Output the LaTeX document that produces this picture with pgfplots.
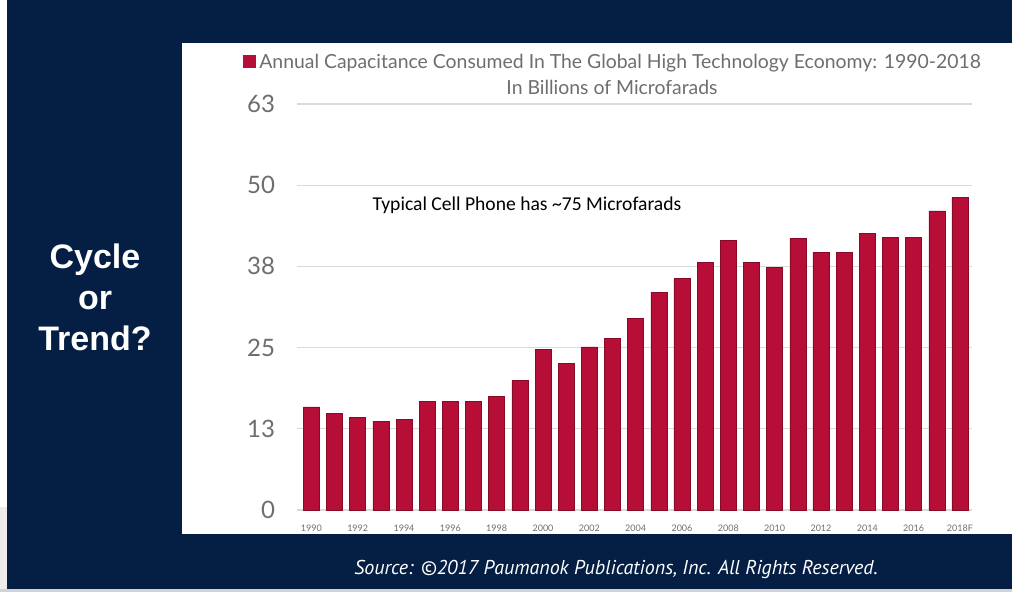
\documentclass[border=0pt]{standalone}
\usepackage{fontspec}
\setmainfont{Lato}
\newfontfamily\carlito{Carlito}
\newfontfamily\arialf{Liberation Sans}
\newfontfamily\ptsans{PT Sans}
\usepackage{pgfplots}
\pgfplotsset{compat=1.18}
\definecolor{navy}{RGB}{5,31,68}
\definecolor{barred}{RGB}{182,14,54}
\definecolor{bardark}{RGB}{135,10,38}
\definecolor{txtgray}{RGB}{110,110,110}
\definecolor{gridgray}{RGB}{218,218,218}
\begin{document}
\begin{tikzpicture}
\path[use as bounding box] (0,0) rectangle (506pt,-296pt);
\fill[navy] (0,0) rectangle (506pt,-296pt);
\fill[white] (0,0) rectangle (3.5pt,-253.5pt);
\fill[gray!15] (0,-253.5pt) rectangle (3.5pt,-296pt);
\fill[gray!35] (0,-294.5pt) rectangle (506pt,-296pt);
\fill[white] (91pt,-21.5pt) rectangle (506pt,-267pt);
\begin{axis}[
  at={(148.5pt,-255pt)}, anchor=south west,
  scale only axis, width=337.5pt, height=203pt,
  xmin=-0.62, xmax=28.52, ymin=0, ymax=63,
  axis line style={draw=none}, major tick length=0pt,
  ytick={0,12.6,25.2,37.8,50.4,63}, yticklabels={0,13,25,38,50,63},
  ymajorgrids, grid style={gridgray, line width=0.6pt},
  xtick={0,2,...,28},
  xticklabels={1990,1992,1994,1996,1998,2000,2002,2004,2006,2008,2010,2012,2014,2016,2018F},
  yticklabel style={font=\fontsize{12}{12}\selectfont, text=txtgray, xshift=-7.5pt},
  xticklabel style={font=\fontsize{4.5}{5}\selectfont, text=txtgray, yshift=-4pt},
  /pgf/number format/assume math mode=true,
  clip=false,
]
\addplot[ybar, bar width=8pt, fill=barred, draw=bardark, line width=0.3pt] coordinates {
(0,16.0) (1,15.0) (2,14.35) (3,13.8) (4,14.1) (5,16.8) (6,16.8) (7,16.9) (8,17.6) (9,20.1)
(10,24.9) (11,22.7) (12,25.3) (13,26.6) (14,29.7) (15,33.8) (16,35.9) (17,38.4) (18,41.8) (19,38.4)
(20,37.6) (21,42.2) (22,40.0) (23,40.0) (24,42.9) (25,42.3) (26,42.3) (27,46.4) (28,48.5)};
\node[font=\carlito\fontsize{9.8}{11}\selectfont, text=black] at (axis cs:9.31,47.3) {Typical Cell Phone has \textasciitilde75 Microfarads};
\end{axis}
\node[font=\fontsize{9.7}{11}\selectfont, text=txtgray] at (306pt,-31.5pt) {\textcolor{barred}{\rule{6.5pt}{6.5pt}}\,Annual Capacitance Consumed In The Global High Technology Economy: 1990-2018};
\node[font=\fontsize{9.7}{11}\selectfont, text=txtgray] at (306pt,-43.5pt) {In Billions of Microfarads};
\node[font=\arialf\bfseries\fontsize{17}{20.5}\selectfont, text=white, align=center] at (47.5pt,-148.5pt) {Cycle\\or\\Trend?};
\node[font=\ptsans\itshape\fontsize{10}{12}\selectfont, text=white] at (308pt,-285pt) {Source: \textcopyright2017 Paumanok Publications, Inc. All Rights Reserved.};
\end{tikzpicture}
\end{document}
